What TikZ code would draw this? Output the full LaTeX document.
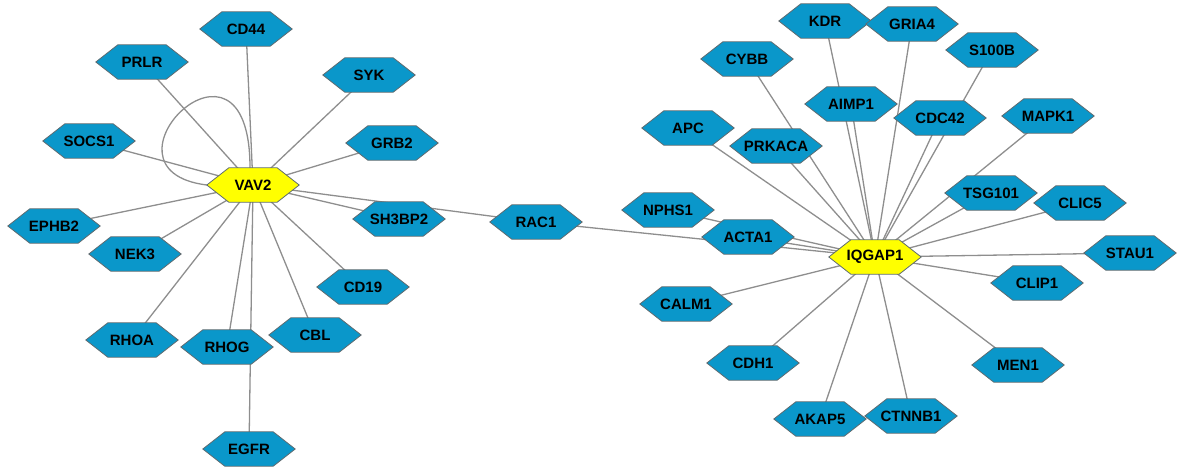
\documentclass[tikz,border=0pt]{standalone}
\usepackage{fontspec}
\setmainfont{Liberation Sans}
\usetikzlibrary{backgrounds}
\pgfdeclarelayer{edgelayer}
\pgfdeclarelayer{hexlayer}
\pgfsetlayers{edgelayer,hexlayer,main}
\definecolor{hexblue}{HTML}{0A97CA}
\definecolor{hexline}{HTML}{5F6B70}
\definecolor{edgegray}{HTML}{8E8E8E}
\definecolor{hubyellow}{HTML}{FFFF00}
\tikzset{
  gene/.style={rectangle, minimum width=92pt, minimum height=34pt, inner sep=0pt,
    font=\fontsize{15}{17}\selectfont\bfseries},
  hexfill/.style={fill=hexblue, draw=hexline, line width=0.8pt},
  hubfill/.style={fill=hubyellow, draw=hexline, line width=0.8pt},
  link/.style={draw=edgegray, line width=1.3pt}
}
\begin{document}
\begin{tikzpicture}[x=1pt,y=-1pt]
\useasboundingbox (0,0) rectangle (1180,467);
% nodes (text)
\node[gene] (VAV2) at (253,185) {VAV2};
\node[gene] (CD44) at (246,29) {CD44};
\node[gene] (PRLR) at (142,62) {PRLR};
\node[gene] (SYK) at (369,75) {SYK};
\node[gene] (SOCS1) at (89,141) {SOCS1};
\node[gene] (GRB2) at (392,143) {GRB2};
\node[gene] (SH3BP2) at (399,219) {SH3BP2};
\node[gene] (EPHB2) at (54,226) {EPHB2};
\node[gene] (NEK3) at (135,254) {NEK3};
\node[gene] (CD19) at (363,287) {CD19};
\node[gene] (RHOA) at (132,340) {RHOA};
\node[gene] (RHOG) at (227,347) {RHOG};
\node[gene] (CBL) at (315,335) {CBL};
\node[gene] (EGFR) at (249,449) {EGFR};
\node[gene] (RAC1) at (536,222) {RAC1};
\node[gene] (IQGAP1) at (875,257) {IQGAP1};
\node[gene] (KDR) at (825,21) {KDR};
\node[gene] (GRIA4) at (912,24) {GRIA4};
\node[gene] (CYBB) at (747,59) {CYBB};
\node[gene] (AIMP1) at (851,104) {AIMP1};
\node[gene] (CDC42) at (940,118) {CDC42};
\node[gene] (APC) at (688,128) {APC};
\node[gene] (PRKACA) at (776,146) {PRKACA};
\node[gene] (NPHS1) at (668,210) {NPHS1};
\node[gene] (ACTA1) at (748,237) {ACTA1};
\node[gene] (S100B) at (992,50) {S100B};
\node[gene] (MAPK1) at (1048,116) {MAPK1};
\node[gene] (TSG101) at (991,193) {TSG101};
\node[gene] (CLIC5) at (1080,203) {CLIC5};
\node[gene] (STAU1) at (1130,253) {STAU1};
\node[gene] (CLIP1) at (1037,283) {CLIP1};
\node[gene] (MEN1) at (1018,365) {MEN1};
\node[gene] (CALM1) at (686,304) {CALM1};
\node[gene] (CDH1) at (753,363) {CDH1};
\node[gene] (AKAP5) at (820,419) {AKAP5};
\node[gene] (CTNNB1) at (911,416) {CTNNB1};
% hexagon bodies
\begin{pgfonlayer}{hexlayer}
\foreach \n in {CD44,PRLR,SYK,SOCS1,GRB2,SH3BP2,EPHB2,NEK3,CD19,RHOA,RHOG,CBL,EGFR,RAC1,
  KDR,GRIA4,CYBB,AIMP1,CDC42,APC,PRKACA,NPHS1,ACTA1,S100B,MAPK1,TSG101,CLIC5,STAU1,
  CLIP1,MEN1,CALM1,CDH1,AKAP5,CTNNB1}
  \path[hexfill] (\n.west) -- ([xshift=22pt]\n.north west) -- ([xshift=-22pt]\n.north east)
    -- (\n.east) -- ([xshift=-22pt]\n.south east) -- ([xshift=22pt]\n.south west) -- cycle;
\foreach \n in {VAV2,IQGAP1}
  \path[hubfill] (\n.west) -- ([xshift=22pt]\n.north west) -- ([xshift=-22pt]\n.north east)
    -- (\n.east) -- ([xshift=-22pt]\n.south east) -- ([xshift=22pt]\n.south west) -- cycle;
\end{pgfonlayer}
% edges
\begin{pgfonlayer}{edgelayer}
\foreach \b in {CD44,PRLR,SYK,SOCS1,GRB2,SH3BP2,EPHB2,NEK3,CD19,RHOA,RHOG,CBL,EGFR,RAC1}
  \draw[link] (VAV2.center) -- (\b.center);
\foreach \b in {RAC1,KDR,GRIA4,CYBB,AIMP1,CDC42,APC,PRKACA,NPHS1,ACTA1,S100B,MAPK1,TSG101,
  CLIC5,STAU1,CLIP1,MEN1,CALM1,CDH1,AKAP5,CTNNB1}
  \draw[link] (IQGAP1.center) -- (\b.center);
\draw[link] ([xshift=-3pt]VAV2.north) .. controls (250,5) and (85,170) .. (VAV2.west);
\end{pgfonlayer}
\end{tikzpicture}
\end{document}
